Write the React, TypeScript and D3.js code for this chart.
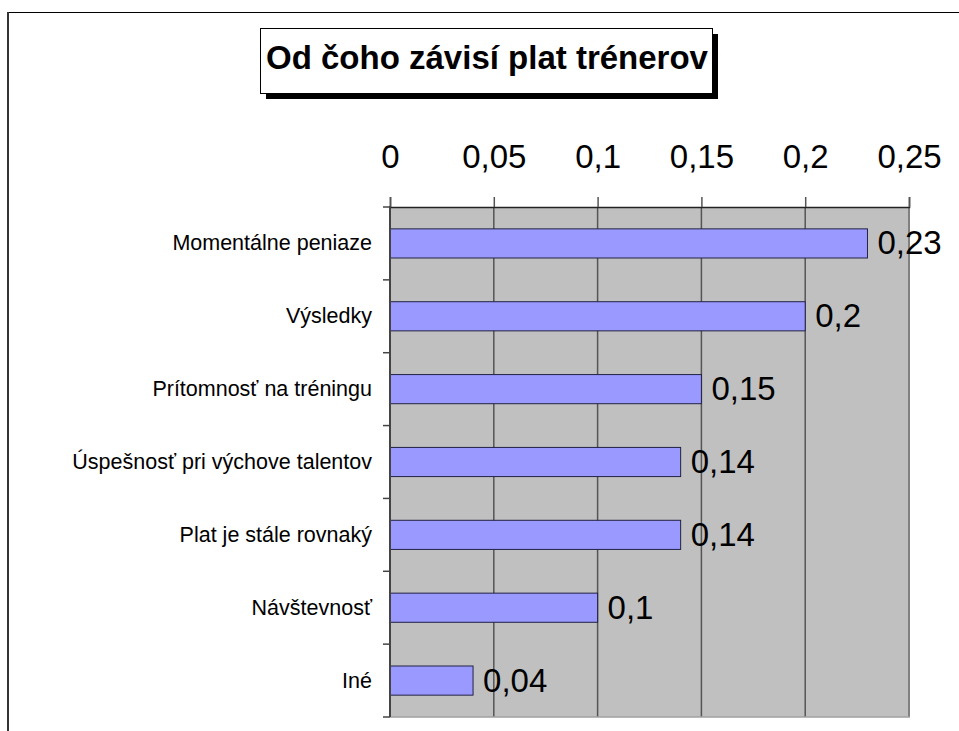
import React, { useRef, useEffect } from 'react';
import * as d3 from 'd3';

const categories = [
    'Momentálne peniaze',
    'Výsledky',
    'Prítomnosť na tréningu',
    'Úspešnosť pri výchove talentov',
    'Plat je stále rovnaký',
    'Návštevnosť',
    'Iné',
];
const values = [0.23, 0.2, 0.15, 0.14, 0.14, 0.1, 0.04];
const xTicks = [0, 0.05, 0.1, 0.15, 0.2, 0.25];
const chartTitle = 'Od čoho závisí plat trénerov';

const skLocale = d3.formatLocale({ decimal: ',', thousands: ' ', grouping: [3], currency: ['', ' €'] });
const fmt = (v: number) => skLocale.format('~g')(v);

const App = () => {
    const svgRef = useRef<SVGSVGElement | null>(null);

    useEffect(() => {
        const width = 959;
        const height = 731;
        const plot = { left: 390, top: 207, right: 909, bottom: 717 };
        const font = 'Liberation Sans, Arial, sans-serif';

        const svg = d3.select(svgRef.current);
        svg.selectAll('*').remove();
        svg.attr('width', width).attr('height', height);

        svg.append('rect').attr('width', width).attr('height', height).attr('fill', '#ffffff');

        // outer frame (top + left edges only visible)
        svg.append('line').attr('x1', 7).attr('x2', width).attr('y1', 12.5).attr('y2', 12.5)
            .attr('stroke', '#000').attr('stroke-width', 1);
        svg.append('line').attr('x1', 8).attr('x2', 8).attr('y1', 12).attr('y2', height)
            .attr('stroke', '#333').attr('stroke-width', 2);

        const xScale = d3.scaleLinear().domain([0, 0.25]).range([plot.left, plot.right]);
        const yScale = d3.scaleBand().domain(categories).range([plot.top, plot.bottom]).paddingInner(0.6).paddingOuter(0.3);
        const band = (plot.bottom - plot.top) / categories.length;

        // plot area
        svg.append('rect')
            .attr('x', plot.left).attr('y', plot.top)
            .attr('width', plot.right - plot.left).attr('height', plot.bottom - plot.top)
            .attr('fill', '#c0c0c0');

        // vertical grid lines
        svg.selectAll('.grid-line')
            .data(xTicks.slice(1, -1))
            .enter().append('line')
            .attr('class', 'grid-line')
            .attr('x1', d => xScale(d)).attr('x2', d => xScale(d))
            .attr('y1', plot.top).attr('y2', plot.bottom)
            .attr('stroke', '#555').attr('stroke-width', 1.5);

        // right and bottom borders
        svg.append('line').attr('x1', plot.right).attr('x2', plot.right).attr('y1', plot.top).attr('y2', plot.bottom)
            .attr('stroke', '#808080').attr('stroke-width', 2);
        svg.append('line').attr('x1', plot.left).attr('x2', plot.right + 1).attr('y1', plot.bottom).attr('y2', plot.bottom)
            .attr('stroke', '#a0a0a0').attr('stroke-width', 1.5);

        // bars
        svg.selectAll('.bar')
            .data(values)
            .enter().append('rect')
            .attr('class', 'bar')
            .attr('x', xScale(0))
            .attr('y', (d, i) => yScale(categories[i]) as number)
            .attr('width', d => xScale(d) - xScale(0))
            .attr('height', yScale.bandwidth())
            .attr('fill', '#9999ff')
            .attr('stroke', '#222244').attr('stroke-width', 1);

        // value labels
        svg.selectAll('.value-label')
            .data(values)
            .enter().append('text')
            .attr('class', 'value-label')
            .attr('x', d => xScale(d) + 10)
            .attr('y', (d, i) => (yScale(categories[i]) as number) + yScale.bandwidth() / 2 + 11)
            .attr('font-family', font).attr('font-size', 33).attr('fill', '#000')
            .text(d => fmt(d));

        // top axis
        const xAxis = d3.axisTop(xScale).tickValues(xTicks).tickSize(10).tickPadding(29).tickFormat(d => fmt(d as number));
        const gx = svg.append('g').attr('transform', `translate(0,${plot.top})`).call(xAxis);
        gx.select('.domain').attr('stroke', '#222').attr('stroke-width', 1.5);
        gx.selectAll('.tick line').attr('stroke', '#555').attr('stroke-width', 1.5);
        gx.selectAll('.tick text').attr('font-family', font).attr('font-size', 33).attr('fill', '#000');

        // left axis
        svg.append('line').attr('x1', plot.left).attr('x2', plot.left).attr('y1', plot.top - 1).attr('y2', plot.bottom)
            .attr('stroke', '#444').attr('stroke-width', 2);
        svg.selectAll('.y-tick')
            .data(d3.range(categories.length + 1))
            .enter().append('line')
            .attr('class', 'y-tick')
            .attr('x1', plot.left - 7).attr('x2', plot.left)
            .attr('y1', d => plot.top + d * band).attr('y2', d => plot.top + d * band)
            .attr('stroke', '#444').attr('stroke-width', 1.5);

        svg.selectAll('.cat-label')
            .data(categories)
            .enter().append('text')
            .attr('class', 'cat-label')
            .attr('x', plot.left - 18)
            .attr('y', d => (yScale(d) as number) + yScale.bandwidth() / 2 + 7)
            .attr('text-anchor', 'end')
            .attr('font-family', font).attr('font-size', 21.5).attr('fill', '#000')
            .text(d => d);

        // title box with shadow
        const tb = { x: 260, y: 28, w: 452, h: 65 };
        svg.append('rect').attr('x', tb.x + 6).attr('y', tb.y + 6).attr('width', tb.w).attr('height', tb.h).attr('fill', '#000');
        svg.append('rect').attr('x', tb.x + 0.5).attr('y', tb.y + 0.5).attr('width', tb.w).attr('height', tb.h)
            .attr('fill', '#fff').attr('stroke', '#000').attr('stroke-width', 1);
        svg.append('text')
            .attr('x', tb.x + tb.w / 2 + 1).attr('y', 69)
            .attr('text-anchor', 'middle')
            .attr('font-family', font).attr('font-size', 33).attr('font-weight', 'bold')
            .text(chartTitle);
    }, []);

    return (
        <svg ref={svgRef} style={{ position: 'absolute', left: 0, top: 0, display: 'block' }}></svg>
    );
};

export default App;
